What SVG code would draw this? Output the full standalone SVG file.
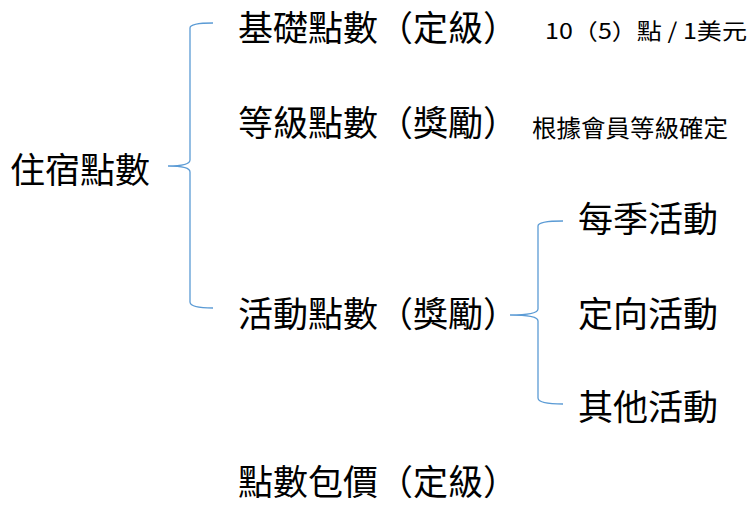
<svg xmlns="http://www.w3.org/2000/svg" width="750" height="510" viewBox="0 0 750 510">
<style>
text{font-family:"Noto Sans CJK TC","Noto Sans CJK SC",sans-serif;fill:#000}
.b{font-size:35px}
.br{fill:none;stroke:#5b9bd5;stroke-width:1.3}
</style>
<rect width="750" height="510" fill="#fff"/>
<g id="connectors">
<path class="br" d="M213,23 Q190,23 190,28 L190,160 Q190,166 168,166 Q190,166 190,172 L190,302 Q190,308 213,308"/>
<path class="br" d="M563,221 Q538,221 538,226 L538,309 Q538,315 510,315 Q538,315 538,321 L538,398 Q538,404 563,404"/>
</g>
<g id="root"><text class="b" x="10" y="183" font-size="36">住宿點數</text></g>
<g id="n1"><text class="b" x="238" y="41">基礎點數（定級）</text><text x="545" y="39" font-size="22" textLength="202" lengthAdjust="spacingAndGlyphs">10（5）點 / 1美元</text></g>
<g id="n2"><text class="b" x="238" y="136">等級點數（獎勵）</text><text x="532" y="137" font-size="24" textLength="196" lengthAdjust="spacingAndGlyphs">根據會員等級確定</text></g>
<g id="n3"><text class="b" x="238" y="327">活動點數（獎勵）</text></g>
<g id="n4"><text class="b" x="238" y="495">點數包價（定級）</text></g>
<g id="c1"><text class="b" x="578" y="232" font-size="36">每季活動</text></g>
<g id="c2"><text class="b" x="578" y="327" font-size="36">定向活動</text></g>
<g id="c3"><text class="b" x="578" y="420" font-size="36">其他活動</text></g>
</svg>
